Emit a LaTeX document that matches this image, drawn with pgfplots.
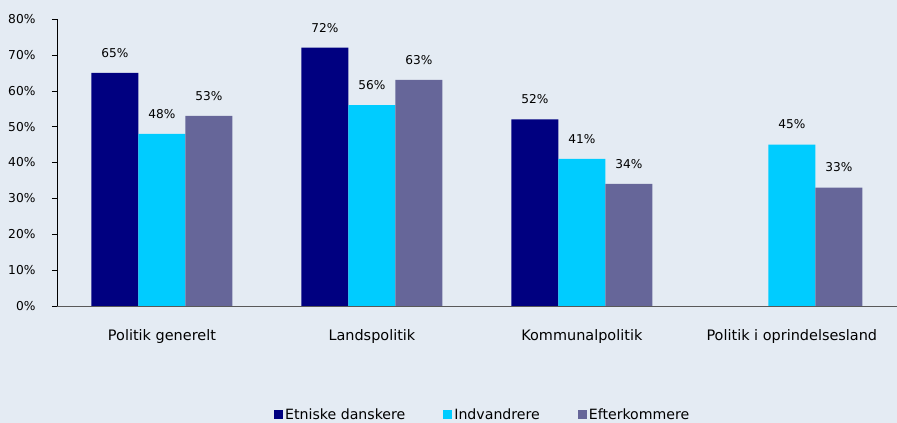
\documentclass[border=0pt]{standalone}
\usepackage{pgfplots}
\pgfplotsset{compat=1.18}
\usepackage{fontspec}
\setmainfont{DejaVu Sans}
\definecolor{c1}{HTML}{000080}
\definecolor{c2}{HTML}{00CCFF}
\definecolor{c3}{HTML}{666699}
\definecolor{bgc}{HTML}{E4EBF3}
\definecolor{axc}{HTML}{595959}
\begin{document}
\begin{tikzpicture}
\fill[bgc] (-57bp,-117bp) rectangle (840bp,306bp);
\begin{axis}[
  at={(0,0)}, anchor=south west,
  scale only axis, width=840bp, height=287bp,
  xmin=-0.5, xmax=3.5, ymin=0, ymax=80,
  ybar=0pt, bar width=47bp,
  clip=false,
  axis x line*=bottom, axis y line*=left,
  x axis line style={axc, -},
  y axis line style={black, -},
  /pgf/number format/assume math mode=true,
  ytick={0,10,...,80},
  yticklabel={\pgfmathprintnumber{\tick}\%},
  yticklabel style={font=\fontsize{12.3}{14}\selectfont, xshift=-13bp},
  ytick align=outside, major tick length=5bp,
  ytick style={black},
  xtick={0,1,2,3},
  xticklabels={Politik generelt, Landspolitik, Kommunalpolitik, Politik i oprindelsesland},
  xticklabel style={font=\fontsize{14.5}{17}\selectfont, yshift=-15bp},
  xtick style={draw=none},
  extra x ticks={0.5,1.5,2.5},
  extra x tick labels={},
  extra x tick style={xtick align=outside, tick style={draw=axc}},
  nodes near coords={\pgfmathprintnumber{\pgfplotspointmeta}\%},
  every node near coord/.append style={font=\fontsize{12.2}{14}\selectfont, black, yshift=12bp},
  legend columns=3,
  legend style={at={(0.507,-0.378)}, anchor=center, draw=none, fill=none,
    font=\fontsize{14.2}{16}\selectfont,
    /tikz/every even column/.append style={column sep=36bp},
    inner sep=0pt},
]
\addplot[fill=c1, draw=none, legend image code/.code={\fill[c1] (0bp,-4.5bp) rectangle (9bp,4.5bp);}] coordinates {(0,65) (1,72) (2,52)};
\addplot[fill=c2, draw=none, legend image code/.code={\fill[c2] (0bp,-4.5bp) rectangle (9bp,4.5bp);}] coordinates {(0,48) (1,56) (2,41) (3,45)};
\addplot[fill=c3, draw=none, legend image code/.code={\fill[c3] (0bp,-4.5bp) rectangle (9bp,4.5bp);}] coordinates {(0,53) (1,63) (2,34) (3,33)};
\legend{Etniske danskere, Indvandrere, Efterkommere}
\end{axis}
\end{tikzpicture}
\end{document}
